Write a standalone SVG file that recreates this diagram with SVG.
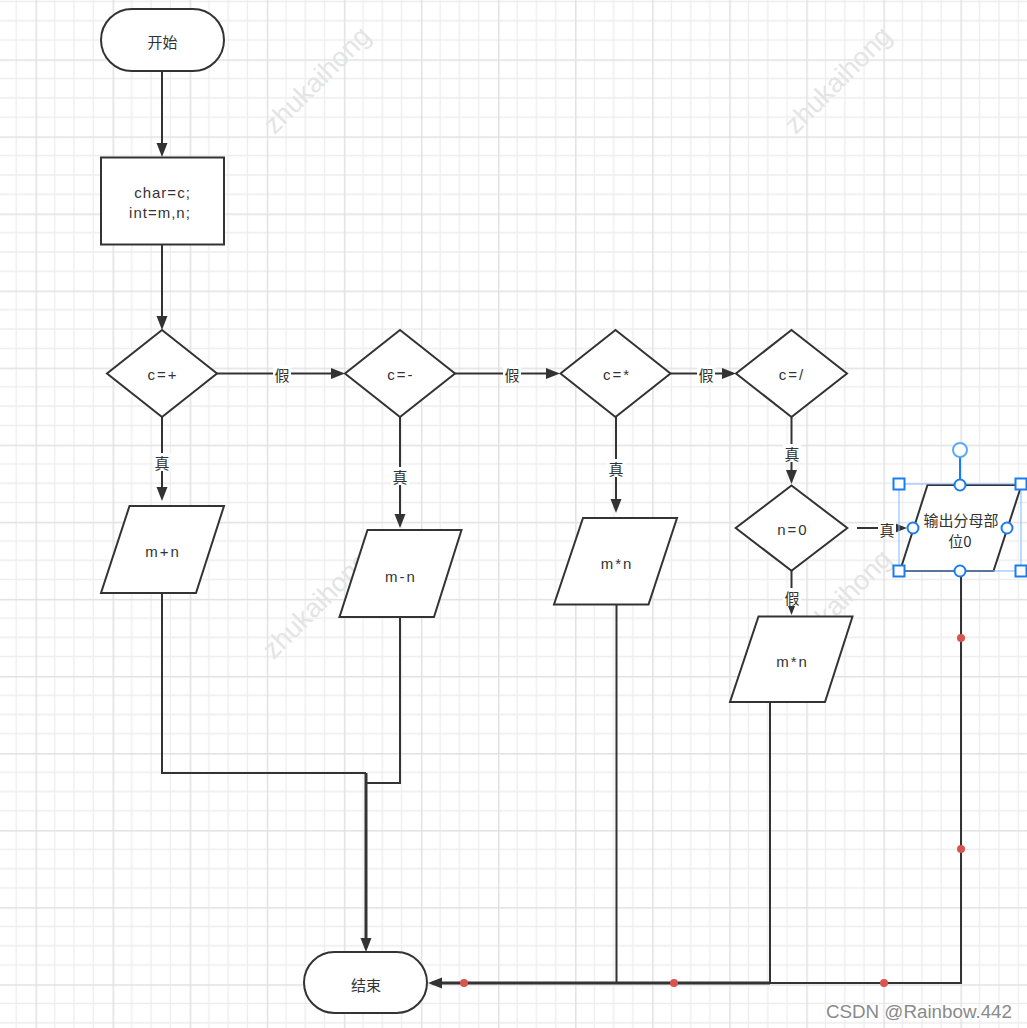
<svg xmlns="http://www.w3.org/2000/svg" width="1027" height="1028" viewBox="0 0 1027 1028">
<style>
.shape{fill:#fff;stroke:#333;stroke-width:2}
.t{font-family:"Liberation Sans","Noto Sans CJK SC",sans-serif;font-size:15px;fill:#333;text-anchor:middle;dominant-baseline:central}
.cn{font-family:"Noto Sans CJK SC",sans-serif;font-size:15px;fill:#333;text-anchor:middle;dominant-baseline:central}
.sp{letter-spacing:2px}
.edge{fill:none;stroke:#333;stroke-width:2}
.thick{stroke-width:3}
.lblbg{fill:#fff}
.wm{font-family:"Liberation Sans",sans-serif;font-size:27px;fill:#e4e4e4;text-anchor:middle;dominant-baseline:central}
.dot{fill:#d9534f}
.h{fill:#fff;stroke:#1a7cf0;stroke-width:2}
</style>
<defs>
<pattern id="grid" x="35.5" y="59.3" width="77.08" height="77.08" patternUnits="userSpaceOnUse">
<path d="M19.27,0V77.08M38.54,0V77.08M57.81,0V77.08M0,19.27H77.08M0,38.54H77.08M0,57.81H77.08" stroke="#ededed" stroke-width="1.3" fill="none"/>
<path d="M0.75,0V77.08M0,0.75H77.08" stroke="#e1e1e1" stroke-width="1.5" fill="none"/>
</pattern>
<marker id="arr" markerUnits="userSpaceOnUse" markerWidth="15" markerHeight="12" refX="10" refY="5.5" orient="auto">
<path d="M0,0 L14,5.5 L0,11 z" fill="#333"/>
</marker>
</defs>
<rect width="1027" height="1028" fill="#fff"/>
<rect width="1027" height="1028" fill="url(#grid)"/>
<g id="watermarks">
<text class="wm" transform="translate(317,80) rotate(-45)">zhukaihong</text>
<text class="wm" transform="translate(838,80) rotate(-45)">zhukaihong</text>
<text class="wm" transform="translate(316,605) rotate(-45)">zhukaihong</text>
<text class="wm" transform="translate(838,603) rotate(-45)">zhukaihong</text>
</g>
<g id="connectors">
<path class="edge" d="M162,71V153" marker-end="url(#arr)"/>
<path class="edge" d="M162,244V326" marker-end="url(#arr)"/>
<path class="edge" d="M217,373.5H341" marker-end="url(#arr)"/>
<path class="edge" d="M455,373.5H556" marker-end="url(#arr)"/>
<path class="edge" d="M670.5,373.5H732" marker-end="url(#arr)"/>
<path class="edge" d="M162,417V497" marker-end="url(#arr)"/>
<path class="edge" d="M400,417V524" marker-end="url(#arr)"/>
<path class="edge" d="M616,417V509" marker-end="url(#arr)"/>
<path class="edge" d="M791.5,417V480" marker-end="url(#arr)"/>
<path class="edge" d="M791.5,571V611" marker-end="url(#arr)"/>
<path class="edge" d="M857,528H903" marker-end="url(#arr)"/>
<path class="edge" d="M162,593V773H366"/>
<path class="edge" d="M400,617V783H366"/>
<path class="edge thick" d="M366,773V948" marker-end="url(#arr)"/>
<path class="edge" d="M616.5,604V983"/>
<path class="edge" d="M770,702V983"/>
<path class="edge" d="M961,571V983H770"/>
<path class="edge thick" d="M770,983H432" marker-end="url(#arr)"/>
<g id="edge-labels">
<rect class="lblbg" x="273" y="365" width="18" height="18"/><text class="cn" x="282" y="374">假</text>
<rect class="lblbg" x="503" y="365" width="18" height="18"/><text class="cn" x="512" y="374">假</text>
<rect class="lblbg" x="697" y="365" width="18" height="18"/><text class="cn" x="706" y="374">假</text>
<rect class="lblbg" x="153" y="453" width="18" height="18"/><text class="cn" x="162" y="462">真</text>
<rect class="lblbg" x="391" y="467" width="18" height="18"/><text class="cn" x="400" y="476">真</text>
<rect class="lblbg" x="607" y="459" width="18" height="18"/><text class="cn" x="616" y="468">真</text>
<rect class="lblbg" x="783" y="444" width="18" height="18"/><text class="cn" x="792" y="453">真</text>
<rect class="lblbg" x="783" y="588" width="18" height="18"/><text class="cn" x="792" y="597">假</text>
<rect class="lblbg" x="878" y="520" width="18" height="18"/><text class="cn" x="887" y="529">真</text>
</g>
<g id="waypoints">
<circle class="dot" cx="464" cy="983" r="4"/>
<circle class="dot" cx="674" cy="983" r="4"/>
<circle class="dot" cx="884" cy="983" r="4"/>
<circle class="dot" cx="961" cy="638" r="4"/>
<circle class="dot" cx="961" cy="849" r="4"/>
</g>
</g>
<g id="start">
<rect class="shape" x="101" y="9" width="123" height="62" rx="31"/>
<text class="cn" x="162.5" y="41.5" font-size="16">开始</text>
</g>
<g id="init">
<rect class="shape" x="101" y="157.5" width="123" height="87"/>
<text class="t" x="162.5" y="192.5" letter-spacing="1">char=c;</text>
<text class="t" x="160" y="212" letter-spacing="1">int=m,n;</text>
</g>
<g id="d-plus">
<polygon class="shape" points="162,330 217,373.5 162,417 107,373.5"/>
<text class="t sp" x="163" y="374">c=+</text>
</g>
<g id="d-minus">
<polygon class="shape" points="400,330 455,373.5 400,417 345,373.5"/>
<text class="t sp" x="401" y="374">c=-</text>
</g>
<g id="d-mul">
<polygon class="shape" points="615.5,330 670.5,373.5 615.5,417 560.5,373.5"/>
<text class="t sp" x="617" y="374">c=*</text>
</g>
<g id="d-div">
<polygon class="shape" points="791.5,330 847,373.5 791.5,417 736,373.5"/>
<text class="t sp" x="792" y="374">c=/</text>
</g>
<g id="d-n0">
<polygon class="shape" points="791.5,485.5 847.3,528 791.5,570.7 735.7,528"/>
<text class="t sp" x="793" y="529">n=0</text>
</g>
<g id="p-add">
<polygon class="shape" points="129.5,506 224,506 196,593 101,593"/>
<text class="t sp" x="163" y="551">m+n</text>
</g>
<g id="p-sub">
<polygon class="shape" points="367.5,530 461.5,530 434,617 339.5,617"/>
<text class="t sp" x="401" y="576">m-n</text>
</g>
<g id="p-mul">
<polygon class="shape" points="583,518 677,518 648.5,604.5 554,604.5"/>
<text class="t sp" x="617" y="563">m*n</text>
</g>
<g id="p-mul2">
<polygon class="shape" points="758.5,616.5 852.5,616.5 825,702 730,702"/>
<text class="t sp" x="792.5" y="661">m*n</text>
</g>
<g id="p-out">
<polygon class="shape" points="927.5,485 1021.5,485 993.5,571 900,571"/>
<text class="cn" x="961" y="519" font-size="14.5">输出分母部</text>
<text class="cn" x="960" y="540" font-size="14.5">位0</text>
</g>
<g id="end">
<rect class="shape" x="304" y="952" width="123" height="61" rx="30.5"/>
<text class="cn" x="366" y="984" font-size="16">结束</text>
</g>
<g id="selection">
<rect x="899" y="484" width="122" height="87" fill="none" stroke="#7db9ff" stroke-width="1"/>
<line x1="960" y1="457" x2="960" y2="484" stroke="#1a7cf0" stroke-width="2"/>
<circle cx="960" cy="450" r="7" fill="#fff" stroke="#5aa9ff" stroke-width="2"/>
<rect class="h" x="893.5" y="478.5" width="11" height="11"/>
<rect class="h" x="1015.5" y="478.5" width="11" height="11"/>
<rect class="h" x="893.5" y="565.5" width="11" height="11"/>
<rect class="h" x="1015.5" y="565.5" width="11" height="11"/>
<circle class="h" cx="960" cy="485" r="5.5"/>
<circle class="h" cx="960" cy="571" r="5.5"/>
<circle class="h" cx="913" cy="528" r="5.5"/>
<circle class="h" cx="1007" cy="528" r="5.5"/>
</g>
<text x="1012" y="1011" font-family="Liberation Sans, sans-serif" font-size="18.8" fill="#8a8a8a" text-anchor="end" dominant-baseline="central" stroke="#fff" stroke-width="2.5" paint-order="stroke">CSDN @Rainbow.442</text>
</svg>
